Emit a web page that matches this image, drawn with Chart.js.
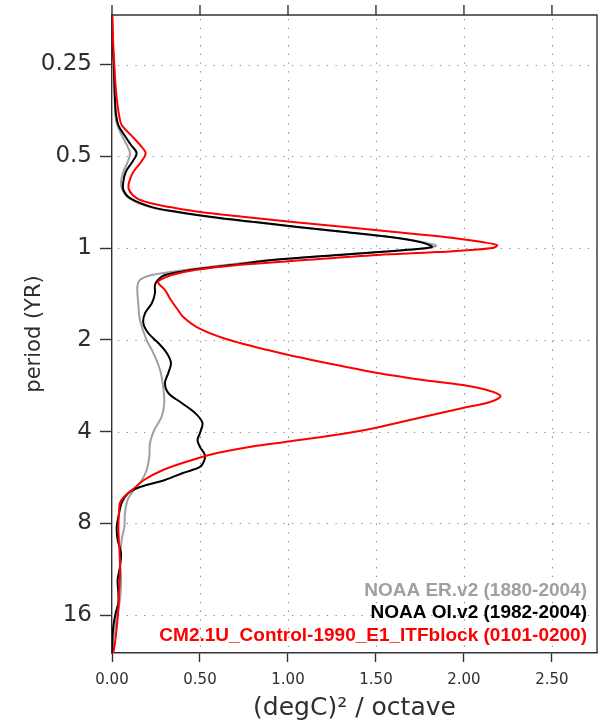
<!DOCTYPE html>
<html>
<head>
<meta charset="utf-8">
<script src="https://cdn.jsdelivr.net/npm/chart.js@4.4.1/dist/chart.umd.min.js"></script>
<style>
  html, body { margin: 0; padding: 0; background: #ffffff; }
  canvas { display: block; }
</style>
</head>
<body>
<canvas id="spectrum" width="604" height="723"></canvas>
<script>
// Period (years) and variance per octave ((degC)^2 / octave) for each spectrum
const erPeriod = [0.172,0.208,0.25,0.292,0.327,0.366,0.395,0.426,0.459,0.488,0.522,0.563,0.608,0.645,0.686,0.734,0.762,0.791,0.822,0.853,0.886,0.920,0.956,0.985,1.015,1.054,1.095,1.137,1.181,1.226,1.273,1.342,1.515,1.722,2.003,2.210,2.512,2.857,3.223,3.582,3.952,4.360,4.846,5.346,5.765,6.217,6.705,7.396,8.222,9.068,10.55,11.64,12.93,14.27,15.74,17.49,19.30,21.29];
const erPower  = [0.000,0.003,0.006,0.011,0.016,0.019,0.030,0.055,0.084,0.102,0.089,0.064,0.051,0.059,0.097,0.216,0.364,0.557,0.801,1.045,1.313,1.580,1.761,1.841,1.665,1.284,0.909,0.642,0.415,0.227,0.159,0.144,0.149,0.159,0.197,0.235,0.273,0.291,0.297,0.282,0.240,0.216,0.212,0.197,0.170,0.125,0.089,0.074,0.070,0.055,0.045,0.051,0.051,0.045,0.032,0.017,0.007,0.004];

const oiPeriod = [0.172,0.208,0.25,0.292,0.327,0.366,0.395,0.426,0.459,0.488,0.522,0.563,0.608,0.645,0.686,0.734,0.762,0.791,0.822,0.853,0.886,0.920,0.956,0.992,1.015,1.054,1.095,1.137,1.181,1.226,1.273,1.322,1.405,1.515,1.634,1.762,1.900,2.049,2.210,2.383,2.570,2.772,2.989,3.223,3.476,3.748,4.043,4.262,4.494,4.773,4.995,5.226,5.468,5.765,6.078,6.360,6.859,7.623,8.222,9.068,10.00,11.12,12.27,13.53,14.59,15.74,17.49,19.30,21.29];
const oiPower  = [0.000,0.003,0.010,0.014,0.017,0.023,0.036,0.070,0.108,0.140,0.115,0.078,0.064,0.065,0.102,0.227,0.375,0.568,0.813,1.057,1.324,1.580,1.750,1.818,1.665,1.284,0.909,0.682,0.443,0.301,0.261,0.244,0.244,0.227,0.188,0.178,0.206,0.263,0.311,0.335,0.320,0.301,0.320,0.396,0.472,0.514,0.500,0.486,0.500,0.528,0.523,0.500,0.403,0.301,0.159,0.093,0.055,0.036,0.027,0.032,0.051,0.045,0.032,0.036,0.036,0.021,0.007,0.002,0.002];

const cmPeriod = [0.172,0.208,0.25,0.292,0.327,0.366,0.395,0.426,0.459,0.488,0.522,0.563,0.608,0.645,0.686,0.712,0.734,0.762,0.791,0.822,0.853,0.886,0.920,0.956,0.978,1.0,1.031,1.054,1.095,1.137,1.181,1.226,1.273,1.302,1.373,1.481,1.597,1.684,1.816,1.958,2.049,2.160,2.278,2.419,2.570,2.709,2.814,2.922,3.057,3.199,3.347,3.582,3.892,4.104,4.327,4.460,4.702,4.957,5.346,5.765,6.217,6.555,6.859,7.396,8.222,9.275,10.55,11.99,13.53,15.39,17.49,19.74,21.29];
const cmPower  = [0.002,0.006,0.013,0.020,0.028,0.040,0.055,0.108,0.159,0.191,0.165,0.121,0.097,0.097,0.140,0.216,0.330,0.500,0.756,1.028,1.324,1.608,1.892,2.102,2.188,2.165,1.852,1.511,1.097,0.716,0.472,0.339,0.273,0.263,0.301,0.335,0.375,0.405,0.481,0.614,0.727,0.886,1.057,1.278,1.511,1.767,1.994,2.131,2.208,2.148,1.994,1.767,1.494,1.267,0.983,0.813,0.597,0.455,0.290,0.182,0.114,0.068,0.045,0.040,0.036,0.040,0.045,0.045,0.040,0.036,0.027,0.017,0.007];

const seriesLabels = ['NOAA ER.v2 (1880-2004)', 'NOAA OI.v2 (1982-2004)', 'CM2.1U_Control-1990_E1_ITFblock (0101-0200)'];
const seriesColors = ['#a0a0a0', '#000000', '#ff0000'];

const xTicks = [0, 0.5, 1, 1.5, 2, 2.5];
const yTicks = [0.25, 0.5, 1, 2, 4, 8, 16];

const xRange = [0, 2.756];
const yRange = [0.172, 21.3];

const toPoints = (periods, powers) => periods.map((p, i) => ({ x: powers[i], y: p }));

const AXIS_COLOR = '#333333';
const TEXT_COLOR = '#2e2e2e';

// Dotted grid, boxed frame with outward top ticks, and the series key
const decorations = {
  id: 'decorations',
  beforeDatasetsDraw(chart) {
    const { ctx, chartArea: a, scales } = chart;
    ctx.save();
    ctx.strokeStyle = '#8c8c8c';
    ctx.lineWidth = 1.2;
    ctx.setLineDash([1.3, 7.4]);
    xTicks.forEach(v => {
      if (v === 0) return;
      const x = Math.round(scales.x.getPixelForValue(v)) + 0.5;
      ctx.beginPath(); ctx.moveTo(x, a.top + 4); ctx.lineTo(x, a.bottom); ctx.stroke();
    });
    yTicks.forEach(v => {
      const y = Math.round(scales.y.getPixelForValue(v)) + 0.5;
      ctx.beginPath(); ctx.moveTo(a.left + 6, y); ctx.lineTo(a.right, y); ctx.stroke();
    });
    ctx.restore();
  },
  afterDraw(chart) {
    const { ctx, chartArea: a, scales } = chart;
    ctx.save();
    ctx.strokeStyle = AXIS_COLOR;
    ctx.lineWidth = 1.4;
    ctx.beginPath();
    ctx.moveTo(a.left, a.top); ctx.lineTo(a.right, a.top); ctx.lineTo(a.right, a.bottom);
    ctx.stroke();
    xTicks.forEach(v => {
      const x = scales.x.getPixelForValue(v);
      ctx.beginPath(); ctx.moveTo(x, a.top); ctx.lineTo(x, a.top - 10); ctx.stroke();
    });
    ctx.font = 'bold 19px "Liberation Sans", Arial, sans-serif';
    ctx.textAlign = 'right';
    ctx.textBaseline = 'middle';
    const keyY = [591, 613, 636];
    seriesLabels.forEach((t, i) => {
      ctx.fillStyle = seriesColors[i];
      ctx.fillText(t, a.right - 10, keyY[i]);
    });
    ctx.restore();
  }
};

new Chart(document.getElementById('spectrum'), {
  type: 'scatter',
  data: {
    datasets: [
      { label: seriesLabels[0], data: toPoints(erPeriod, erPower), borderColor: seriesColors[0], order: 2 },
      { label: seriesLabels[1], data: toPoints(oiPeriod, oiPower), borderColor: seriesColors[1], order: 1 },
      { label: seriesLabels[2], data: toPoints(cmPeriod, cmPower), borderColor: seriesColors[2], order: 0 }
    ].map(d => Object.assign(d, {
      showLine: true, pointRadius: 0, borderWidth: 2, tension: 0.35, fill: false
    }))
  },
  options: {
    responsive: false,
    animation: false,
    events: [],
    layout: { padding: { top: 15, right: 7, left: 0, bottom: 0 } },
    plugins: { legend: { display: false }, tooltip: { enabled: false } },
    scales: {
      x: {
        type: 'linear',
        position: 'bottom',
        bounds: 'data',
        min: xRange[0],
        max: xRange[1],
        afterBuildTicks: s => { s.ticks = xTicks.map(v => ({ value: v })); },
        afterFit: s => { s.height = 70; },
        grid: { drawOnChartArea: false, drawTicks: true, tickLength: 9, tickColor: AXIS_COLOR, tickWidth: 1.4 },
        border: { display: true, color: AXIS_COLOR, width: 1.4 },
        ticks: {
          padding: 9,
          maxRotation: 0,
          color: TEXT_COLOR,
          font: { family: '"DejaVu Sans", sans-serif', size: 15 },
          callback: v => Number(v).toFixed(2)
        },
        title: {
          display: true,
          text: '(degC)\u00B2 / octave',
          color: TEXT_COLOR,
          font: { family: '"DejaVu Sans", sans-serif', size: 25 },
          padding: { top: 0, bottom: 0 }
        }
      },
      y: {
        type: 'logarithmic',
        position: 'left',
        bounds: 'data',
        reverse: true,
        min: yRange[0],
        max: yRange[1],
        afterBuildTicks: s => { s.ticks = yTicks.map(v => ({ value: v })); },
        afterFit: s => { s.width = 112; },
        grid: { drawOnChartArea: false, drawTicks: true, tickLength: 12, tickColor: AXIS_COLOR, tickWidth: 1.4 },
        border: { display: true, color: AXIS_COLOR, width: 1.4 },
        ticks: {
          padding: 8,
          color: TEXT_COLOR,
          font: { family: '"DejaVu Sans", sans-serif', size: 23, lineHeight: 0.3 },
          callback: v => String(v)
        },
        title: {
          display: true,
          text: 'period (YR)',
          color: TEXT_COLOR,
          font: { family: '"DejaVu Sans", sans-serif', size: 21 },
          padding: { top: 22, bottom: 0 }
        }
      }
    }
  },
  plugins: [decorations]
});
</script>
</body>
</html>
